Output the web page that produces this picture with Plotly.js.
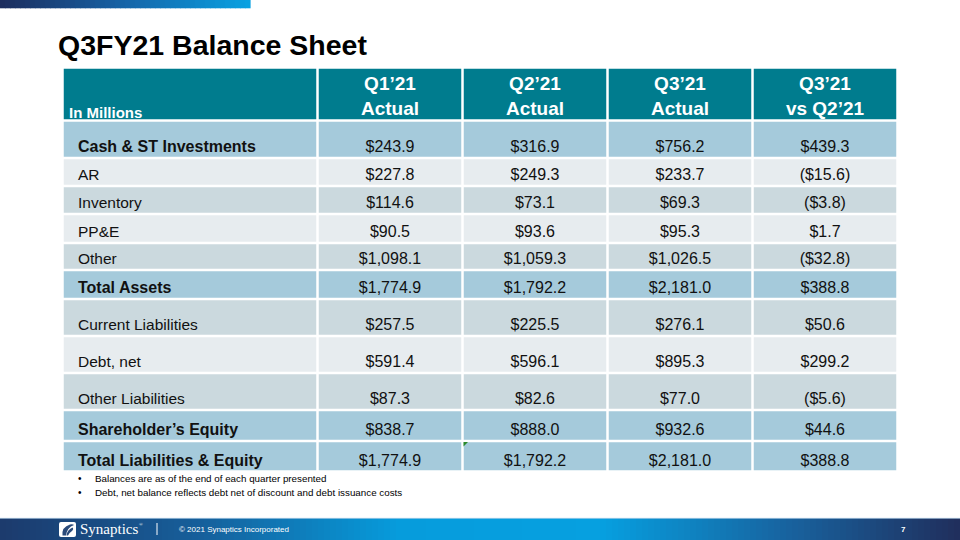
<!DOCTYPE html>
<html><head><meta charset="utf-8">
<script src="https://cdn.plot.ly/plotly-3.0.1.min.js"></script>
<style>html,body{margin:0;padding:0;background:#fff;}#chart{width:960px;height:540px;}</style>
</head><body><div id="chart"></div>
<script>
// ---------- DATA ----------
const slideTitle = 'Q3FY21 Balance Sheet';
const unitLabel = 'In Millions';
const columnHeaders = [['Q1’21', 'Actual'], ['Q2’21', 'Actual'], ['Q3’21', 'Actual'], ['Q3’21', 'vs Q2’21']];
const lineItems = ['Cash & ST Investments', 'AR', 'Inventory', 'PP&E', 'Other', 'Total Assets',
  'Current Liabilities', 'Debt, net', 'Other Liabilities', 'Shareholder’s Equity', 'Total Liabilities & Equity'];
const q1Actual = [243.9, 227.8, 114.6, 90.5, 1098.1, 1774.9, 257.5, 591.4, 87.3, 838.7, 1774.9];
const q2Actual = [316.9, 249.3, 73.1, 93.6, 1059.3, 1792.2, 225.5, 596.1, 82.6, 888.0, 1792.2];
const q3Actual = [756.2, 233.7, 69.3, 95.3, 1026.5, 2181.0, 276.1, 895.3, 77.0, 932.6, 2181.0];
const q3VsQ2 = [439.3, -15.6, -3.8, 1.7, -32.8, 388.8, 50.6, 299.2, -5.6, 44.6, 388.8];
const footnotes = ['Balances are as of the end of each quarter presented',
  'Debt, net balance reflects debt net of discount and debt issuance costs'];
const footerCompany = 'Synaptics';
const footerCopyright = '© 2021 Synaptics Incorporated';
const pageNumber = '7';

// ---------- LAYOUT / STYLE ----------
const rowStyle = ['total', 'light', 'mid', 'light', 'mid', 'total', 'mid', 'light', 'mid', 'total', 'total'];
const rowHeights = [37.5, 28, 28, 29, 27, 29, 37, 37, 37, 31, 30.5];
const colEdges = [62.5, 317.5, 462.5, 607.5, 752.5, 897.5];
const headerTop = 67.5, headerBottom = 120.5;
const gap = 1.25;
const fills = { header: '#007c8e', total: '#a5cadb', light: '#e7ecef', mid: '#cbd9de' };
const FONT = 'Arial, "Liberation Sans", sans-serif';
const SERIF = '"Liberation Serif", "Times New Roman", serif';

const rowEdges = [headerBottom];
rowHeights.forEach(h => rowEdges.push(rowEdges[rowEdges.length - 1] + h));
const textY = rowHeights.map((h, i) => rowEdges[i + 1] - 10);
const colCenters = colEdges.slice(1, -1).map((e, i) => (e + colEdges[i + 2]) / 2);
const labelX = 78;

function money(v) {
  const s = Math.abs(v).toLocaleString('en-US', { minimumFractionDigits: 1, maximumFractionDigits: 1 });
  return v < 0 ? '($' + s + ')' : '$' + s;
}

const shapes = [];
// header cells
for (let c = 0; c < colEdges.length - 1; c++) {
  shapes.push({ type: 'rect', xref: 'x', yref: 'y', x0: colEdges[c] + gap, x1: colEdges[c + 1] - gap,
    y0: headerTop + gap, y1: headerBottom - gap, fillcolor: fills.header, line: { width: 0 }, layer: 'below' });
}
// body cells
for (let r = 0; r < rowHeights.length; r++) {
  for (let c = 0; c < colEdges.length - 1; c++) {
    shapes.push({ type: 'rect', xref: 'x', yref: 'y', x0: colEdges[c] + gap, x1: colEdges[c + 1] - gap,
      y0: rowEdges[r] + gap, y1: rowEdges[r + 1] - gap, fillcolor: fills[rowStyle[r]], line: { width: 0 }, layer: 'below' });
  }
}

// gradient helper (decorative bars)
function lerpStops(stops, x) {
  for (let i = 0; i < stops.length - 1; i++) {
    const a = stops[i], b = stops[i + 1];
    if (x >= a[0] && x <= b[0]) {
      const t = (x - a[0]) / (b[0] - a[0]);
      const col = [0, 1, 2].map(k => Math.round(a[1][k] + (b[1][k] - a[1][k]) * t));
      return 'rgb(' + col.join(',') + ')';
    }
  }
  const l = stops[stops.length - 1][1];
  return 'rgb(' + l.join(',') + ')';
}
function gradientBar(x0, x1, y0, y1, stops, n) {
  const w = (x1 - x0) / n;
  for (let i = 0; i < n; i++) {
    shapes.push({ type: 'rect', xref: 'x', yref: 'y', x0: x0 + i * w, x1: x0 + (i + 1) * w + 0.6, y0: y0, y1: y1,
      fillcolor: lerpStops(stops, x0 + (i + 0.5) * w), line: { width: 0 }, layer: 'below' });
  }
}
gradientBar(0, 250, 0, 8.3, [[0, [28, 44, 92]], [125, [22, 100, 168]], [250, [8, 162, 226]]], 50);
gradientBar(0, 960, 518, 540, [[0, [28, 58, 108]], [200, [22, 95, 155]], [400, [6, 156, 220]], [600, [6, 160, 224]],
  [790, [24, 98, 158]], [960, [32, 46, 92]]], 160);
shapes.push({ type: 'line', xref: 'x', yref: 'y', x0: 0, x1: 960, y0: 518.3, y1: 518.3, line: { color: 'rgba(190,215,235,0.8)', width: 1 } });

// logo
shapes.push({ type: 'path', xref: 'x', yref: 'y', path: 'M 61 522 L 74 522 Q 76 522 76 524 L 76 535 Q 76 537 74 537 L 61 537 Q 59 537 59 535 L 59 524 Q 59 522 61 522 Z',
  fillcolor: '#ffffff', line: { width: 0 } });
shapes.push({ type: 'path', xref: 'x', yref: 'y', path: 'M 62.5 535.5 Q 61.5 527 70 524.5 Q 73 524 74 525 Q 67 527.5 66 535.5 Z',
  fillcolor: '#2a4a7a', line: { width: 0 } });
shapes.push({ type: 'path', xref: 'x', yref: 'y', path: 'M 66.5 535.5 Q 67 530 72.5 527.5 Q 74 529 72 531 Q 69 533 68 535.5 Z',
  fillcolor: '#2a4a7a', line: { width: 0 } });
shapes.push({ type: 'line', xref: 'x', yref: 'y', x0: 157, x1: 157, y0: 523, y1: 535, line: { color: '#ffffff', width: 1 } });
// small green triangle artifact
shapes.push({ type: 'path', xref: 'x', yref: 'y', path: 'M 463.5 442 L 468 442 L 463.5 446.5 Z', fillcolor: '#2a8a2a', line: { width: 0 } });

// ---------- TRACES ----------
const traces = [];
traces.push({
  type: 'scatter', mode: 'text', x: lineItems.map(() => labelX), y: textY,
  text: lineItems.map((s, i) => rowStyle[i] === 'total' ? '<b>' + s + '</b>' : s),
  textposition: 'middle right', cliponaxis: false, hoverinfo: 'skip',
  textfont: { family: FONT, size: lineItems.map((s, i) => rowStyle[i] === 'total' ? 16 : 15.5), color: '#111111' }
});
[q1Actual, q2Actual, q3Actual, q3VsQ2].forEach((vals, c) => {
  traces.push({
    type: 'scatter', mode: 'text', x: vals.map(() => colCenters[c]), y: textY,
    text: vals.map(money), textposition: 'middle center', cliponaxis: false, hoverinfo: 'skip',
    textfont: { family: FONT, size: 16, color: '#111111' }
  });
});
traces.push({
  type: 'scatter', mode: 'text', x: colCenters, y: colCenters.map(() => (headerTop + headerBottom) / 2 + 4),
  text: columnHeaders.map(h => h.map(l => '<b>' + l + '</b>').join('<br>')),
  textposition: 'middle center', cliponaxis: false, hoverinfo: 'skip',
  textfont: { family: FONT, size: 19, color: '#ffffff' }
});

// ---------- ANNOTATIONS ----------
const annotations = [];
annotations.push({ xref: 'x', yref: 'y', x: 56, y: 45, xanchor: 'left', yanchor: 'middle', showarrow: false,
  text: '<b>' + slideTitle + '</b>', font: { family: FONT, size: 28.5, color: '#000000' } });
annotations.push({ xref: 'x', yref: 'y', x: 67, y: 112, xanchor: 'left', yanchor: 'middle', showarrow: false,
  text: '<b>' + unitLabel + '</b>', font: { family: FONT, size: 15, color: '#ffffff' } });
footnotes.forEach((f, i) => {
  annotations.push({ xref: 'x', yref: 'y', x: 76, y: 478 + i * 14, xanchor: 'left', yanchor: 'middle', showarrow: false,
    text: '•', font: { family: FONT, size: 10, color: '#000000' } });
  annotations.push({ xref: 'x', yref: 'y', x: 93, y: 478 + i * 14, xanchor: 'left', yanchor: 'middle', showarrow: false,
    text: f, font: { family: FONT, size: 9.8, color: '#000000' } });
});
annotations.push({ xref: 'x', yref: 'y', x: 78, y: 528.5, xanchor: 'left', yanchor: 'middle', showarrow: false,
  text: footerCompany, font: { family: SERIF, size: 15, color: '#ffffff' } });
annotations.push({ xref: 'x', yref: 'y', x: 137, y: 524, xanchor: 'left', yanchor: 'middle', showarrow: false,
  text: '®', font: { family: SERIF, size: 5, color: '#ffffff' } });
annotations.push({ xref: 'x', yref: 'y', x: 177, y: 529.5, xanchor: 'left', yanchor: 'middle', showarrow: false,
  text: footerCopyright, font: { family: FONT, size: 8, color: '#ffffff' } });
annotations.push({ xref: 'x', yref: 'y', x: 903, y: 529.5, xanchor: 'center', yanchor: 'middle', showarrow: false,
  text: '<b>' + pageNumber + '</b>', font: { family: FONT, size: 8, color: '#ffffff' } });

const layout = {
  width: 960, height: 540, margin: { l: 0, r: 0, t: 0, b: 0, pad: 0 },
  paper_bgcolor: '#ffffff', plot_bgcolor: '#ffffff', showlegend: false, hovermode: false,
  xaxis: { range: [0, 960], visible: false, fixedrange: true },
  yaxis: { range: [540, 0], visible: false, fixedrange: true },
  shapes: shapes, annotations: annotations
};
Plotly.newPlot('chart', traces, layout, { staticPlot: true, displayModeBar: false });
</script></body></html>
